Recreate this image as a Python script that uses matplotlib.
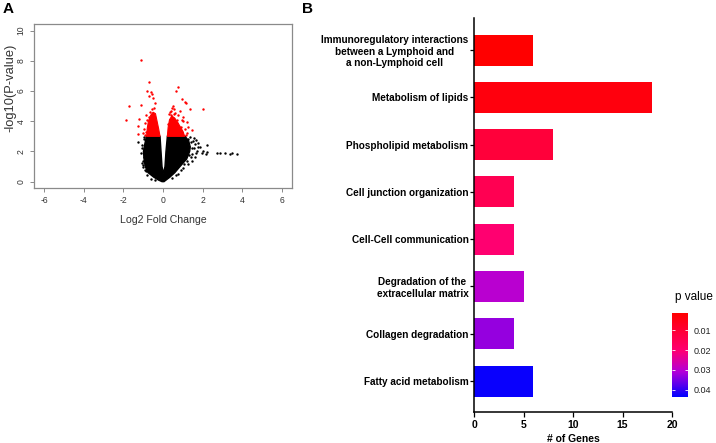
import matplotlib
matplotlib.use("Agg")
import matplotlib.pyplot as plt
from matplotlib.colors import LinearSegmentedColormap, Normalize
import numpy as np

plt.rcParams['font.family'] = ['Liberation Sans', 'DejaVu Sans']
plt.rcParams['axes.unicode_minus'] = False

# ---------------- Panel A data (volcano) ----------------
# dense black cloud outline (log2FC, -log10 p)
cloud_x = [-0.05, -0.22, -0.47, -0.76, -0.90, -0.96, -0.99, -0.92, -0.84,
           -0.15, -0.10, -0.05, 0.02, 0.10, 0.15, 0.22,
           1.12, 1.30, 1.38, 1.35, 1.20, 0.86, 0.60, 0.35, 0.15, 0.05]
cloud_y = [0.00, 0.10, 0.30, 0.60, 1.00, 1.50, 2.00, 2.50, 3.00,
           3.00, 2.00, 1.00, 0.55, 1.00, 2.00, 3.00,
           3.00, 2.70, 2.30, 2.00, 1.50, 1.00, 0.60, 0.30, 0.10, 0.00]
# dense red (significant) cores
red_left_x = [-0.83, -0.80, -0.74, -0.62, -0.50, -0.38, -0.30, -0.22, -0.15]
red_left_y = [3.00, 3.50, 4.00, 4.40, 4.60, 4.50, 4.00, 3.50, 3.00]
red_right_x = [0.22, 0.26, 0.33, 0.45, 0.60, 0.80, 1.00, 1.10]
red_right_y = [3.00, 3.60, 4.10, 4.35, 4.20, 3.80, 3.35, 3.00]
# individual significant genes
red_x = [-1.11, -0.69, 0.76, 0.66, -0.79, -0.61, -0.54, -0.52, -0.72, -1.72,
         -1.11, -1.87, -1.23, -1.27, -1.25, 0.95, 1.11, 1.16, 1.37, 2.04,
         0.49, 0.44, 0.56, -0.57, -0.66, -0.86, -0.83, 0.78, 1.03, 0.95,
         1.20, 1.28, -1.00, 1.45, 0.35, 0.60, 0.70, 0.90, 1.10, 1.20,
         0.40, -0.45, -0.40, -0.95, -0.90, 0.30, 0.85, 1.00, 0.55,
         -0.88, -0.92, -0.70, 0.72, 0.95, 1.15, 0.50, 0.25, 0.38, -0.55]
red_y = [8.04, 6.58, 6.29, 6.03, 6.01, 5.96, 5.81, 5.52, 5.68, 5.03,
         5.08, 4.09, 4.13, 3.69, 3.16, 5.46, 5.30, 5.19, 4.79, 4.83,
         5.01, 4.86, 4.79, 4.79, 4.64, 4.42, 4.09, 4.42, 4.31, 4.09,
         3.97, 3.64, 3.20, 3.42, 4.60, 4.55, 4.10, 3.60, 3.50, 3.20,
         4.40, 4.90, 5.20, 3.50, 3.90, 4.50, 4.70, 4.00, 4.50,
         3.30, 3.10, 4.30, 3.90, 3.30, 3.10, 4.20, 3.80, 4.65, 4.45]
# individual non-significant genes outside the dense cloud
blk_x = [2.72, 2.89, 3.14, 3.39, 3.51, 3.76, 1.50, 1.60, 1.75, 1.79,
         1.86, 2.21, 2.24, 2.19, 1.98, 2.05, 1.70, 1.60, 1.45, 1.55,
         1.35, 1.65, 1.45, 1.25, 1.00, 0.75, -1.28, -0.97, -1.03, -1.05,
         -1.00, -0.85, -0.95, -1.10,
         -1.08, -1.06, -1.02, -0.98, -0.92, -0.80, -0.62, -0.40,
         1.42, 1.48, 1.40, 1.30, 1.22, 1.05, 0.90, 0.68, 0.48, 1.55, 1.68, 1.25]
blk_y = [1.90, 1.88, 1.92, 1.86, 1.90, 1.83, 2.70, 2.50, 2.30, 2.54,
         2.32, 2.40, 1.98, 1.80, 1.87, 2.05, 2.05, 1.60, 1.40, 2.90,
         2.95, 1.90, 2.20, 1.20, 0.90, 0.50, 2.65, 1.66, 1.10, 2.20,
         1.40, 0.70, 2.80, 1.90,
         2.45, 1.25, 0.95, 2.95, 0.80, 0.45, 0.20, 0.10,
         2.60, 1.85, 1.65, 1.75, 1.35, 1.15, 0.75, 0.45, 0.25, 2.25, 2.75, 2.85]

# ---------------- Panel B data (pathways) ----------------
pathways = ["Immunoregulatory interactions\nbetween a Lymphoid and\na non-Lymphoid cell",
            "Metabolism of lipids",
            "Phospholipid metabolism",
            "Cell junction organization",
            "Cell-Cell communication",
            "Degradation of the\nextracellular matrix",
            "Collagen degradation",
            "Fatty acid metabolism"]
n_genes = [6, 18, 8, 4, 4, 5, 4, 6]
p_values = [0.0012, 0.0035, 0.0110, 0.0150, 0.0200, 0.0300, 0.0330, 0.0430]
cbar_ticks = [0.01, 0.02, 0.03, 0.04]
gene_ticks = [0, 5, 10, 15, 20]

fig = plt.figure(figsize=(7.16, 4.43), dpi=100)
W, H = 716, 443

def ax_px(l, t, r, b):
    return fig.add_axes([l / W, 1 - b / H, (r - l) / W, (b - t) / H])

# ---- Panel A ----
axA = ax_px(34, 24, 292, 188)
axA.fill(cloud_x, cloud_y, color='black', lw=1.0, ec='black', zorder=2)
axA.fill(red_left_x, red_left_y, color='red', lw=0.8, ec='red', zorder=3)
axA.fill(red_right_x, red_right_y, color='red', lw=0.8, ec='red', zorder=3)
axA.scatter(blk_x, blk_y, s=3, c='black', lw=0, zorder=2)
axA.scatter(red_x, red_y, s=3, c='red', lw=0, zorder=3)
axA.set_xlim(-6.53, 6.53)
axA.set_ylim(-0.42, 10.44)
axA.set_xticks([-6, -4, -2, 0, 2, 4, 6])
axA.set_yticks([0, 2, 4, 6, 8, 10])
for s in axA.spines.values():
    s.set_color('#8a8a8a')
    s.set_linewidth(0.9)
axA.tick_params(axis='both', direction='out', length=3, width=0.7,
                color='#8a8a8a', labelsize=6.2, labelcolor='#333333', pad=3)
for lab in axA.get_yticklabels():
    lab.set_rotation(90)
    lab.set_va('center')
fig.text(163 / W, 1 - 220 / H, "Log2 Fold Change", fontsize=7.6,
         color='#333333', ha='center', va='center')
fig.text(10 / W, 1 - 88 / H, "-log10(P-value)", fontsize=9.3, rotation=90,
         color='#333333', ha='center', va='center')

# ---- Panel B ----
cmap = LinearSegmentedColormap.from_list(
    'pv', [(0.0, (1.0, 0.0, 0.0)), (0.45, (1.0, 0.0, 0.45)),
           (0.7, (0.7, 0.0, 0.85)), (1.0, (0.0, 0.0, 1.0))])
norm = Normalize(vmin=0.0012, vmax=0.0438)

axB = ax_px(474, 18, 672, 412)
ypos = np.arange(len(pathways))
axB.barh(ypos, n_genes, height=0.655, color=cmap(norm(np.array(p_values))), zorder=2)
axB.set_ylim(7.655, -0.677)
axB.set_xlim(0, 20)
axB.set_xticks(gene_ticks)
axB.set_yticks(ypos)
axB.set_yticklabels(pathways, fontsize=7.2, fontweight='bold', multialignment='center')
axB.set_xticklabels([str(t) for t in gene_ticks], fontsize=7.5, fontweight='bold')
for k in ['top', 'right']:
    axB.spines[k].set_visible(False)
for k in ['left', 'bottom']:
    axB.spines[k].set_linewidth(1.1)
axB.tick_params(axis='y', length=3, width=0.9, pad=1)
axB.tick_params(axis='x', length=3.5, width=0.9, pad=2)
axB.set_xlabel("# of Genes", fontsize=7.5, fontweight='bold', labelpad=3)

# colorbar
cax = ax_px(672, 313, 688, 397)
sm = plt.cm.ScalarMappable(norm=norm, cmap=cmap)
cb = fig.colorbar(sm, cax=cax)
cb.outline.set_visible(False)
cb.set_ticks(cbar_ticks)
cb.set_ticklabels([f"{t:.2f}" for t in cbar_ticks])
cax.invert_yaxis()
cax.tick_params(axis='y', direction='in', length=2.5, width=0.6, color='white',
                left=True, right=True, labelsize=6.5, labelcolor='#222222', pad=4)
fig.text(675 / W, 1 - 297 / H, "p value", fontsize=8.5, va='center', ha='left')

# panel letters
fig.text(3 / W, 1 - 9 / H, "A", fontsize=11, fontweight='bold', va='center')
fig.text(302 / W, 1 - 9 / H, "B", fontsize=11, fontweight='bold', va='center')

fig.savefig("out.png", dpi=100)
